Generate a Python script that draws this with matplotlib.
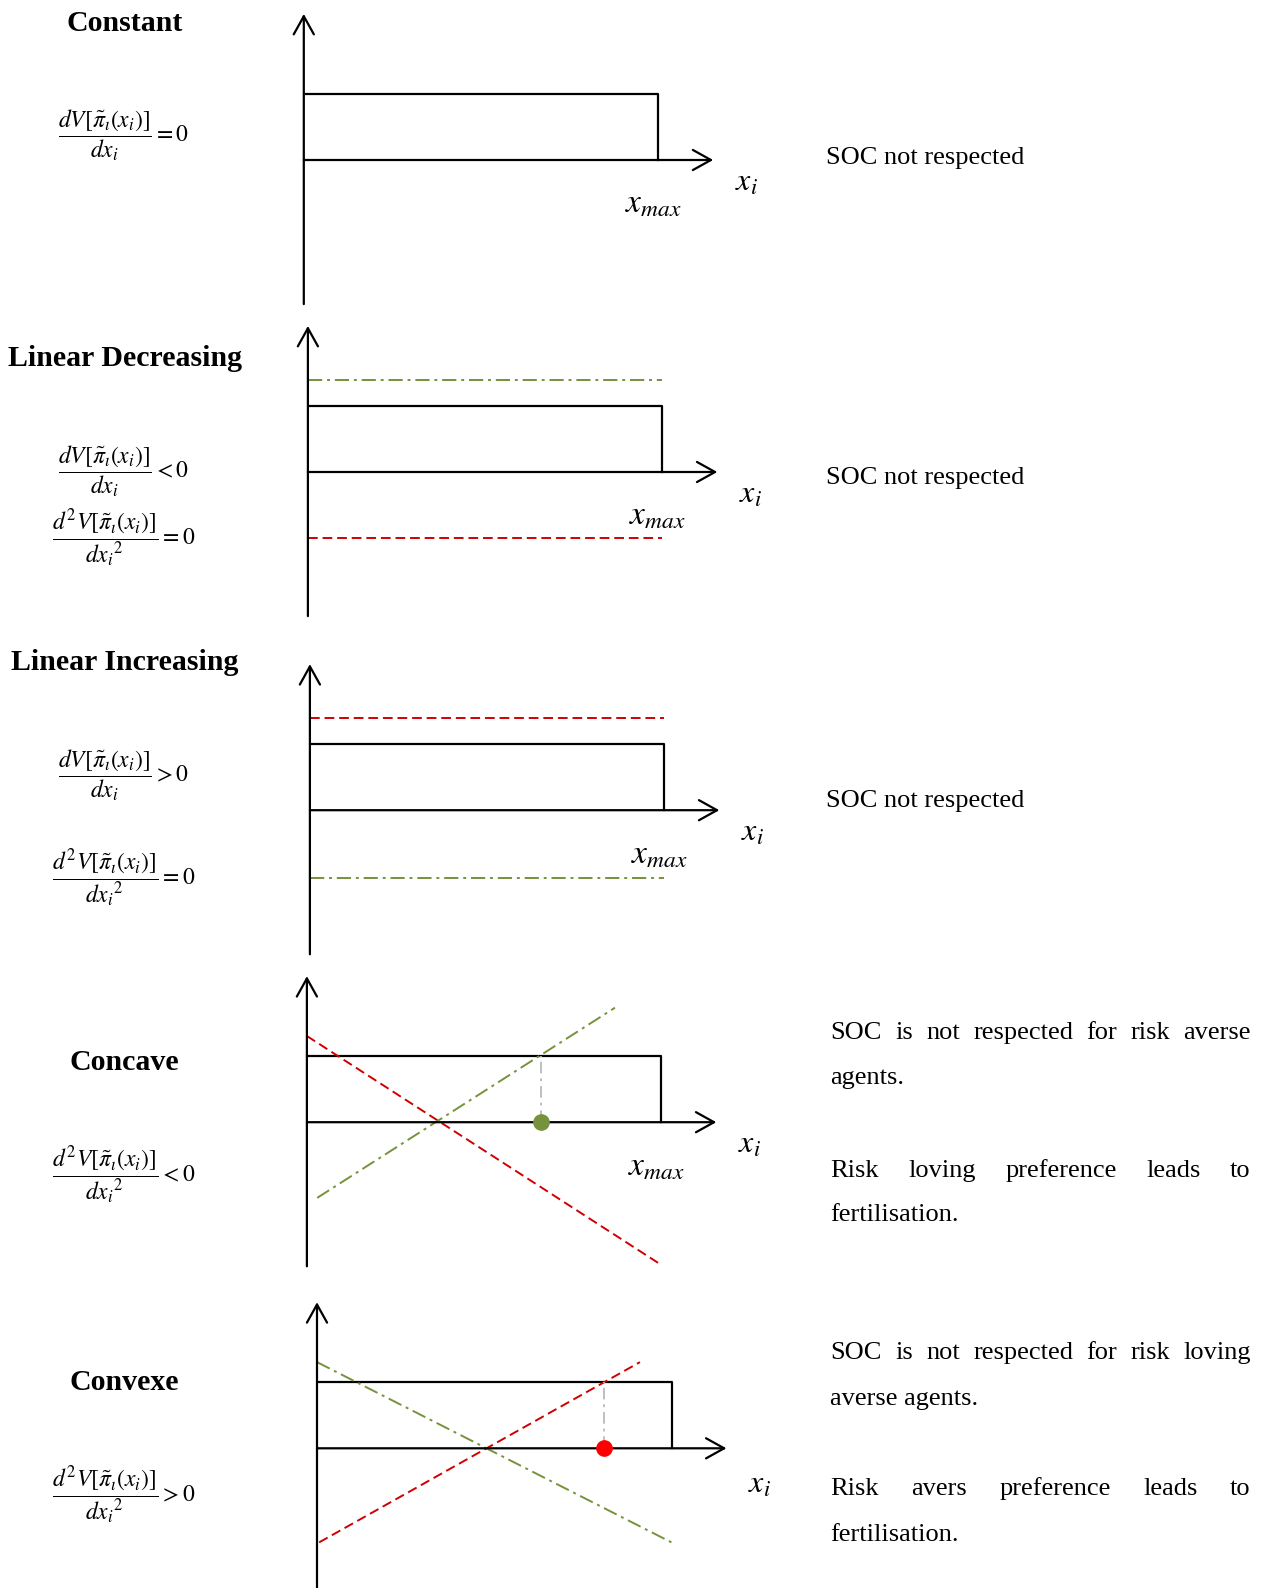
import matplotlib.pyplot as plt

plt.rcParams['mathtext.fontset'] = 'stix'
SERIF = 'Liberation Serif'

W, H = 1268, 1588

# panel contents (x in units where x_max = 10, y in units of the rectangle height)
titles = ['Constant', 'Linear Decreasing', 'Linear Increasing', 'Concave', 'Convexe']
x_max = 10.0
rect_h = 1.0
x_axis_end = 11.55
y_axis_top, y_axis_bottom = 2.22, -2.19

# dashed lines per panel: x values, y values
red_lines = {1: ([0, 10], [-1.0, -1.0]),
             2: ([0, 10], [1.4, 1.4]),
             3: ([0, 10], [1.31, -2.17]),
             4: ([0.06, 9.11], [-1.43, 1.31])}
green_lines = {1: ([0, 10], [1.4, 1.4]),
               2: ([0, 10], [-1.03, -1.03]),
               3: ([0.29, 8.69], [-1.15, 1.74]),
               4: ([0, 10], [1.31, -1.43])}
optimum = {3: (6.6, '#76923C'), 4: (8.09, '#FF0000')}

formulas = [
    [r'$\dfrac{dV[\tilde{\pi}_\iota(x_i)]}{dx_i} = 0$'],
    [r'$\dfrac{dV[\tilde{\pi}_\iota(x_i)]}{dx_i} < 0$',
     r'$\dfrac{d^2V[\tilde{\pi}_\iota(x_i)]}{{dx_i}^2} = 0$'],
    [r'$\dfrac{dV[\tilde{\pi}_\iota(x_i)]}{dx_i} > 0$',
     r'$\dfrac{d^2V[\tilde{\pi}_\iota(x_i)]}{{dx_i}^2} = 0$'],
    [r'$\dfrac{d^2V[\tilde{\pi}_\iota(x_i)]}{{dx_i}^2} < 0$'],
    [r'$\dfrac{d^2V[\tilde{\pi}_\iota(x_i)]}{{dx_i}^2} > 0$'],
]
comments = [
    ['SOC not respected'],
    ['SOC not respected'],
    ['SOC not respected'],
    ['SOC is not respected for risk averse', 'agents.',
     'Risk loving preference leads to', 'fertilisation.'],
    ['SOC is not respected for risk loving', 'averse agents.',
     'Risk avers preference leads to', 'fertilisation.'],
]

# layout (pixels)
UX, UY = 35.45, 65.8
origins = [(303.8, 160.0), (307.9, 472.0), (309.9, 810.2), (306.9, 1122.2), (317.0, 1448.3)]
title_y = [23.5, 359, 662.5, 1062.5, 1382.5]
formula_y = [[135.5], [471.5, 538.5], [774.8, 878.5], [1175.5], [1495.5]]
comment_y = [[158], [478], [801],
             [1033, 1077.6, 1170.7, 1215.3],
             [1353, 1398.6, 1488.8, 1535.4]]
xi_dy = [-0.34, -0.34, -0.34, -0.34, -0.54]

RED = '#D00000'
GREEN = '#76923C'

fig = plt.figure(figsize=(W / 100, H / 100), dpi=100)


def fx(x):
    return x / W


def fy(y):
    return 1 - y / H


XL, YL = (-1, 14), (-2.4, 2.4)
for k, (ox, oy) in enumerate(origins):
    left = ox + XL[0] * UX
    top = oy - YL[1] * UY
    ax = fig.add_axes([fx(left), fy(top + (YL[1] - YL[0]) * UY),
                       (XL[1] - XL[0]) * UX / W, (YL[1] - YL[0]) * UY / H])
    ax.set_xlim(XL)
    ax.set_ylim(YL)
    ax.axis('off')

    arrow = dict(arrowstyle='->, head_length=0.9, head_width=0.5', lw=1.6,
                 color='black', mutation_scale=14.5, shrinkA=0, shrinkB=0)
    ax.annotate('', xy=(0, y_axis_top), xytext=(0, y_axis_bottom),
                arrowprops=arrow, annotation_clip=False)
    ax.annotate('', xy=(x_axis_end, 0), xytext=(0, 0),
                arrowprops=arrow, annotation_clip=False)

    ax.plot([0.06, x_max, x_max], [rect_h, rect_h, 0], color='black', lw=1.6,
            clip_on=False)

    if k in red_lines:
        xs, ys = red_lines[k]
        ax.plot(xs, ys, color=RED, lw=1.4, dashes=(5, 2.5), clip_on=False)
    if k in green_lines:
        xs, ys = green_lines[k]
        ax.plot(xs, ys, color=GREEN, lw=1.4, dashes=(7.3, 2.5, 1.5, 2.5),
                clip_on=False)
    if k in optimum:
        xo, col = optimum[k]
        ax.plot([xo, xo], [0, rect_h], color='#BFBFBF', lw=1.4,
                dashes=(6, 2.5, 1.5, 2.5))
        ax.plot([xo], [0], 'o', color=col, markersize=11, zorder=5)

    if k < 4:
        ax.text(9.85, -0.66, r'$x_{max}$', fontsize=24, ha='center', va='center')
    ax.text(12.48, xi_dy[k], r'$x_i$', fontsize=23, ha='center', va='center')

    fig.text(fx(124.6), fy(title_y[k]), titles[k], family=SERIF,
             fontweight='bold', fontsize=21.5, ha='center', va='center')
    for f, y in zip(formulas[k], formula_y[k]):
        fig.text(fx(123.6), fy(y), f, fontsize=17, ha='center', va='center')

# right-hand comments; paragraphs are justified
fig.canvas.draw()
renderer = fig.canvas.get_renderer()
for k in range(5):
    lines = comments[k]
    for j, (line, y) in enumerate(zip(lines, comment_y[k])):
        if len(lines) == 1:
            fig.text(fx(826.4), fy(y), line, family=SERIF, fontsize=19, va='center')
            continue
        if j % 2 == 1:
            fig.text(fx(830.5), fy(y), line, family=SERIF, fontsize=19, va='center')
            continue
        words = line.split()
        texts = [fig.text(0, fy(y), w, family=SERIF, fontsize=19, va='center')
                 for w in words]
        widths = [t.get_window_extent(renderer).width for t in texts]
        gap = (1250.8 - 830.5 - sum(widths)) / (len(words) - 1)
        x = 830.5
        for t, w in zip(texts, widths):
            t.set_x(fx(x))
            x += w + gap

fig.savefig('out.png', dpi=100)
